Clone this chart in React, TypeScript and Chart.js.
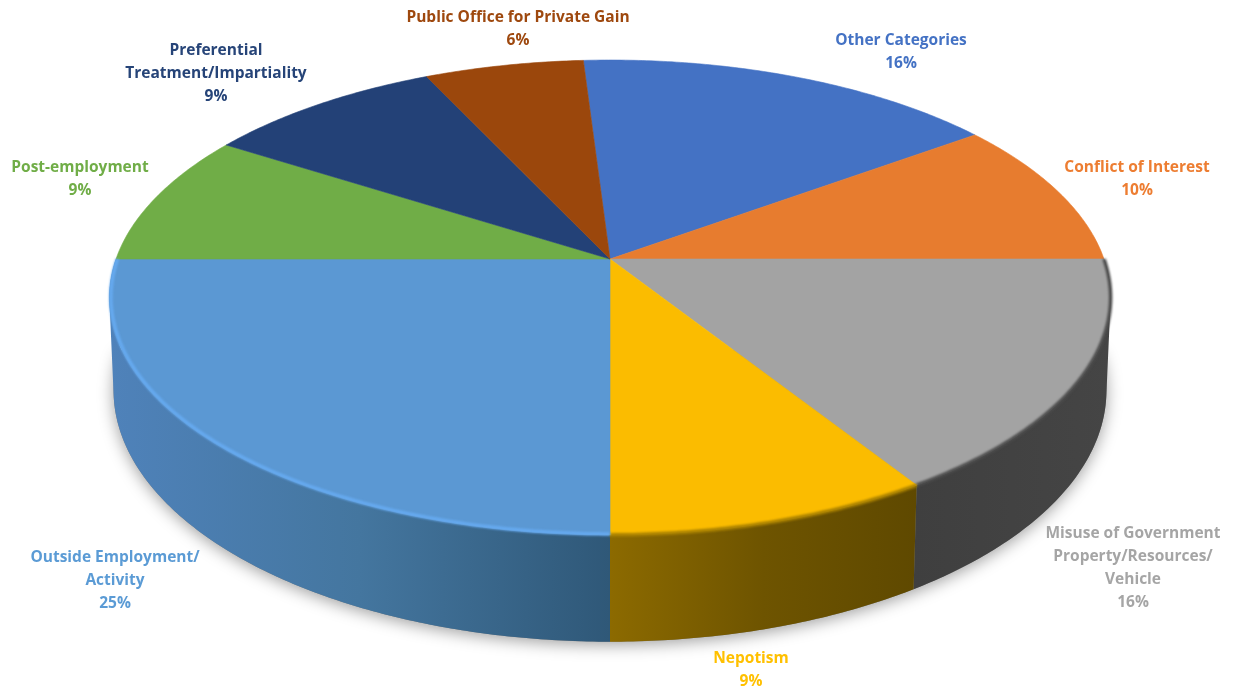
import React, { useEffect, useRef } from "react";
import { Chart, registerables } from "chart.js";

Chart.register(...registerables);

const categories = [
  "Other Categories",
  "Conflict of Interest",
  "Misuse of Government Property/Resources/ Vehicle",
  "Nepotism",
  "Outside Employment/ Activity",
  "Post-employment",
  "Preferential Treatment/Impartiality",
  "Public Office for Private Gain",
];
const shares = [16, 10, 16, 9, 25, 9, 9, 6];
const sliceColors = ["#4472c4", "#e77c2f", "#a3a3a3", "#fbbc00", "#5b98d3", "#70ad47", "#234177", "#9b470c"];
const labelColors = ["#4472c4", "#ed7d31", "#a5a5a5", "#ffc000", "#5b9bd5", "#70ad47", "#264478", "#9e480e"];
const labelLines = [
  ["Other Categories"],
  ["Conflict of Interest"],
  ["Misuse of Government", "Property/Resources/", "Vehicle"],
  ["Nepotism"],
  ["Outside Employment/", "Activity"],
  ["Post-employment"],
  ["Preferential", "Treatment/Impartiality"],
  ["Public Office for Private Gain"],
];
const labelCenters = [
  [901, 41], [1137, 168], [1133, 534], [751, 659],
  [115, 558], [80, 168], [216, 51], [518, 18],
];
// Side-wall shading from left to right across each slice; empty where the wall is hidden.
const wallStops: string[][] = [
  [], [],
  ["#3f3f3f", "#454545"],
  ["#8c6a00", "#6e5400", "#5f4900"],
  ["#4f82ba", "#44769f", "#2f5878"],
  [], [], [],
];
const rimColors = ["", "", "#4c4c4c", "#a88000", "#66aaf0", "", "", ""];
const rimInset = [1, 1, 1, 1, 0.997, 1, 1, 1];

const LINE_HEIGHT = 23;
const TILT = -0.162;
const TOP_SQUASH = 0.468;
const BASE_DROP = 91;
const BASE_SCALE_X = 0.992;
const BASE_SQUASH = 0.496;

type Pt = [number, number];

function topPoint(arc: any, angle: number, shrink = 1): Pt {
  const X = Math.cos(angle) * shrink;
  const Y = Math.sin(angle) * shrink;
  const d = 1 + TILT * Y;
  return [arc.x + (arc.outerRadius * X) / d, arc.y + (TOP_SQUASH * arc.outerRadius * Y) / d];
}

function basePoint(arc: any, angle: number): Pt {
  const X = Math.cos(angle);
  const Y = Math.sin(angle);
  const d = 1 - 0.16 * Y;
  return [
    arc.x + (BASE_SCALE_X * arc.outerRadius * X) / d,
    arc.y + BASE_DROP + (BASE_SQUASH * arc.outerRadius * Y) / d,
  ];
}

function sweep(a0: number, a1: number): number[] {
  const n = Math.max(2, Math.ceil((a1 - a0) / 0.01));
  const out: number[] = [];
  for (let i = 0; i <= n; i++) out.push(a0 + ((a1 - a0) * i) / n);
  return out;
}

function tracePoly(ctx: CanvasRenderingContext2D, pts: Pt[]) {
  pts.forEach((p, i) => (i ? ctx.lineTo(p[0], p[1]) : ctx.moveTo(p[0], p[1])));
  ctx.closePath();
}

// The front half of the rim, where the slice's angle points toward the viewer.
function frontRange(arc: any): [number, number] | null {
  const full = Math.PI * 2;
  let a0 = arc.startAngle % full;
  if (a0 < 0) a0 += full;
  const a1 = a0 + (arc.endAngle - arc.startAngle);
  const lo = Math.max(a0, 0);
  const hi = Math.min(a1, Math.PI);
  return hi > lo + 1e-6 ? [lo, hi] : null;
}

const tiltedPie = {
  id: "tiltedPie",
  beforeDatasetsDraw(chart: any) {
    const ctx: CanvasRenderingContext2D = chart.ctx;
    const arcs: any[] = chart.getDatasetMeta(0).data;
    const first = arcs[0];

    // Soft ground shadow under the base.
    ctx.save();
    ctx.shadowColor = "rgba(0,0,0,0.38)";
    ctx.shadowBlur = 16;
    ctx.shadowOffsetY = 3;
    ctx.fillStyle = "#808080";
    ctx.beginPath();
    tracePoly(ctx, sweep(0, Math.PI).map((a) => basePoint(first, a)));
    ctx.fill();
    ctx.restore();

    // Side walls, each built from thin quads so the silhouette follows both rims.
    arcs.forEach((arc, i) => {
      const range = frontRange(arc);
      if (!range || !wallStops[i].length) return;
      const angles = sweep(range[0], range[1]);
      const xs = angles.map((a) => basePoint(arc, a)[0]).concat(angles.map((a) => topPoint(arc, a)[0]));
      const grad = ctx.createLinearGradient(Math.min(...xs), 0, Math.max(...xs), 0);
      wallStops[i].forEach((c, k) => grad.addColorStop(k / (wallStops[i].length - 1), c));
      ctx.beginPath();
      for (let k = 0; k < angles.length - 1; k++) {
        const quad: Pt[] = [
          topPoint(arc, angles[k]),
          topPoint(arc, angles[k + 1]),
          basePoint(arc, angles[k + 1]),
          basePoint(arc, angles[k]),
        ];
        let area = 0;
        quad.forEach((p, j) => {
          const q = quad[(j + 1) % 4];
          area += p[0] * q[1] - q[0] * p[1];
        });
        tracePoly(ctx, area < 0 ? quad.reverse() : quad);
      }
      ctx.fillStyle = grad;
      ctx.fill("nonzero");
    });

    // Top face of every slice.
    arcs.forEach((arc) => {
      const pts = sweep(arc.startAngle, arc.endAngle).map((a) => topPoint(arc, a));
      ctx.beginPath();
      tracePoly(ctx, [[arc.x, arc.y] as Pt, ...pts]);
      ctx.fillStyle = arc.options.backgroundColor;
      ctx.strokeStyle = arc.options.backgroundColor;
      ctx.lineWidth = 0.6;
      ctx.fill();
      ctx.stroke();
    });

    // Bevel along the front rim.
    arcs.forEach((arc, i) => {
      const range = frontRange(arc);
      if (!range || !rimColors[i]) return;
      ctx.save();
      ctx.filter = "blur(1.2px)";
      ctx.strokeStyle = rimColors[i];
      ctx.lineWidth = 3.5;
      ctx.lineCap = "butt";
      ctx.beginPath();
      sweep(range[0], range[1]).forEach((a, k) => {
        const p = topPoint(arc, a, rimInset[i]);
        k ? ctx.lineTo(p[0], p[1]) : ctx.moveTo(p[0], p[1]);
      });
      ctx.stroke();
      ctx.restore();
    });

    return false;
  },
  afterDraw(chart: any) {
    const ctx: CanvasRenderingContext2D = chart.ctx;
    ctx.save();
    ctx.font = '700 15.5px "Open Sans"';
    ctx.textAlign = "center";
    ctx.textBaseline = "middle";
    labelLines.forEach((lines, i) => {
      ctx.fillStyle = labelColors[i];
      const [cx, cy] = labelCenters[i];
      [...lines, `${shares[i]}%`].forEach((line, k) => ctx.fillText(line, cx, cy + k * LINE_HEIGHT));
    });
    ctx.restore();
  },
};

export default function App() {
  const ref = useRef<HTMLCanvasElement>(null);

  useEffect(() => {
    document.body.style.margin = "0";
    document.body.style.background = "#ffffff";
    const chart = new Chart(ref.current!, {
      type: "pie",
      data: {
        labels: categories,
        datasets: [{ data: shares, backgroundColor: sliceColors, borderWidth: 0 }],
      },
      options: {
        responsive: false,
        animation: false,
        rotation: -3.6,
        radius: 494,
        layout: { padding: { right: 16, bottom: 172 } },
        events: [],
        plugins: { legend: { display: false }, tooltip: { enabled: false } },
      },
      plugins: [tiltedPie],
    });
    return () => chart.destroy();
  }, []);

  return <canvas ref={ref} width={1236} height={690} style={{ display: "block" }} />;
}
